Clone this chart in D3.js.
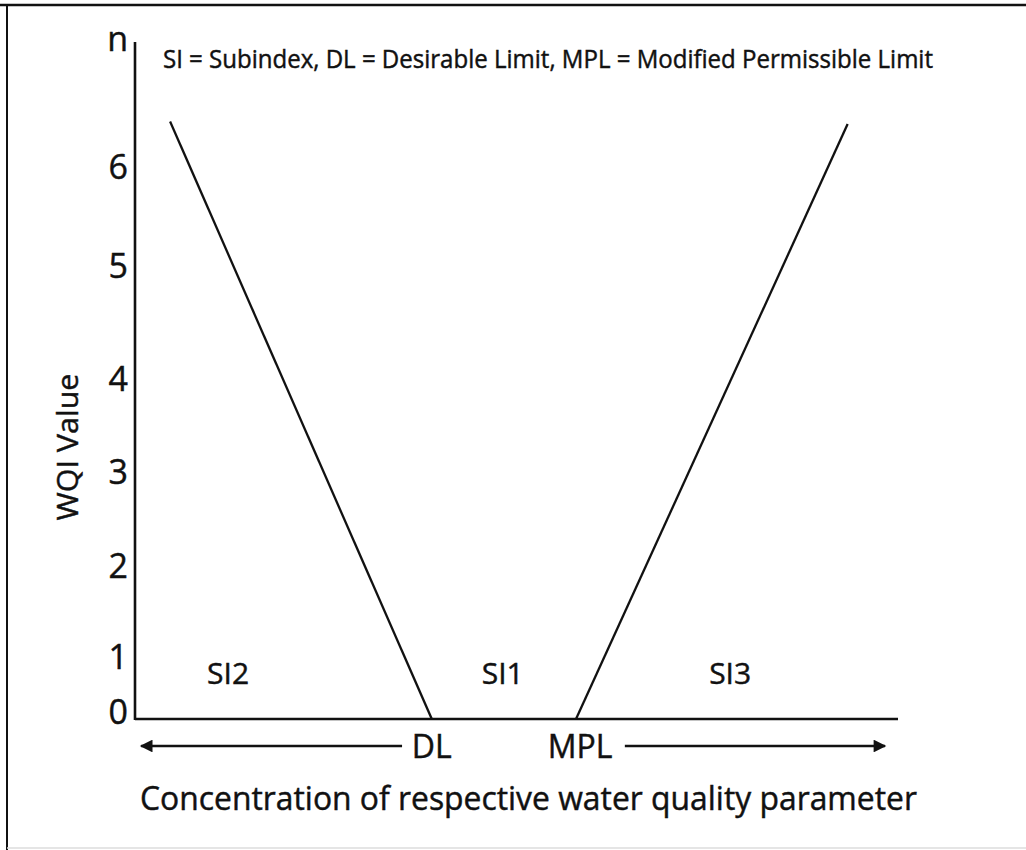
<!DOCTYPE html>
<html>
<head>
<meta charset="utf-8">
<script src="https://cdn.jsdelivr.net/npm/d3@7"></script>
<style>
  html, body { margin: 0; padding: 0; background: #fff; }
  svg text { font-family: "Open Sans", "Noto Sans", sans-serif; fill: #111; stroke: #111; stroke-width: 0.45px; }
</style>
</head>
<body>
<svg id="chart" width="1026" height="850"></svg>
<script>
// ---- data ----
const yTickValues = [0, 1, 2, 3, 4, 5, 6, 7];
const yTickLabels = ["0", "1", "2", "3", "4", "5", "6", "n"];
const limitNames = ["DL", "MPL"];
const limitValues = [38.9, 57.8];           // concentration positions of DL and MPL (0-100 schematic)
const si2Line = [[4.6, 6.41], [38.9, 0]];   // falling subindex line (concentration, WQI)
const si3Line = [[57.8, 0], [93.4, 6.39]];  // rising subindex line
const regionNames = ["SI2", "SI1", "SI3"];
const regionX = [12.2, 48.2, 78.0];
const arrowLeft = [35.0, 0.8];
const arrowRight = [64.2, 98.3];
const titleText = "SI = Subindex, DL = Desirable Limit, MPL = Modified Permissible Limit";
const xTitle = "Concentration of respective water quality parameter";
const yTitle = "WQI Value";

// ---- layout ----
const svg = d3.select("#chart");
const x = d3.scaleLinear().domain([0, 100]).range([135, 898]);
// schematic, non-uniform axis as drawn in the original
const y = d3.scaleLinear().domain(yTickValues).range([719, 664, 573, 479, 386, 273, 174, 46]);

// frame
svg.append("line").attr("x1", 0).attr("x2", 1026).attr("y1", 5).attr("y2", 5)
  .attr("stroke", "#111").attr("stroke-width", 2.5);
svg.append("line").attr("x1", 7).attr("x2", 7).attr("y1", 5).attr("y2", 850)
  .attr("stroke", "#111").attr("stroke-width", 2);
svg.append("line").attr("x1", 7).attr("x2", 1026).attr("y1", 848).attr("y2", 848)
  .attr("stroke", "#ddd").attr("stroke-width", 1.5);

const defs = svg.append("defs");
defs.append("marker").attr("id", "arrow").attr("viewBox", "0 0 10 10")
  .attr("refX", 9).attr("refY", 5).attr("markerWidth", 7).attr("markerHeight", 5.5)
  .attr("markerUnits", "strokeWidth").attr("orient", "auto")
  .append("path").attr("d", "M0,0 L10,5 L0,10 Z").attr("fill", "#111");

// axes lines
svg.append("line").attr("x1", x(0)).attr("x2", x(0))
  .attr("y1", y(0) + 1).attr("y2", y(7) - 4)
  .attr("stroke", "#111").attr("stroke-width", 2.6);
svg.append("line").attr("x1", x(0)).attr("x2", x(100))
  .attr("y1", y(0)).attr("y2", y(0))
  .attr("stroke", "#111").attr("stroke-width", 2.6);

// y tick labels via d3 axis
const yAxis = d3.axisLeft(y).tickValues(yTickValues).tickSize(0)
  .tickFormat((d, i) => yTickLabels[i]);
const gy = svg.append("g").attr("transform", `translate(${x(0)},0)`).call(yAxis)
  .attr("font-size", null).attr("font-family", null);
gy.select(".domain").remove();
gy.selectAll("text")
  .attr("x", -7).attr("dy", 4)
  .style("dominant-baseline", "alphabetic")
  .style("font-size", "34px").attr("fill", "#111");

// subindex lines
const line = d3.line().x(d => x(d[0])).y(d => y(d[1]));
svg.append("path").datum(si2Line).attr("d", line)
  .attr("fill", "none").attr("stroke", "#111").attr("stroke-width", 2.3);
svg.append("path").datum(si3Line).attr("d", line)
  .attr("fill", "none").attr("stroke", "#111").attr("stroke-width", 2.3);

// region labels
svg.selectAll("text.region").data(regionNames).join("text").attr("class", "region")
  .attr("x", (d, i) => x(regionX[i])).attr("y", y(0) - 35)
  .attr("text-anchor", "middle").style("font-size", "30px").text(d => d);

// arrows
const ay = y(0) + 27;
svg.append("line").attr("x1", x(arrowLeft[0])).attr("x2", x(arrowLeft[1]))
  .attr("y1", ay).attr("y2", ay).attr("stroke", "#111").attr("stroke-width", 2.3)
  .attr("marker-end", "url(#arrow)");
svg.append("line").attr("x1", x(arrowRight[0])).attr("x2", x(arrowRight[1]))
  .attr("y1", ay).attr("y2", ay).attr("stroke", "#111").attr("stroke-width", 2.3)
  .attr("marker-end", "url(#arrow)");

// limit labels
svg.selectAll("text.limit").data(limitNames).join("text").attr("class", "limit")
  .attr("x", (d, i) => x(limitValues[i]) + (i === 0 ? 0 : 4)).attr("y", y(0) + 39)
  .attr("text-anchor", "middle").style("font-size", "32px").text(d => d);

// titles
svg.append("text").attr("x", 163).attr("y", 68).style("font-size", "25px")
  .attr("textLength", 770).attr("lengthAdjust", "spacingAndGlyphs").text(titleText);
svg.append("text").attr("x", 140).attr("y", 810).style("font-size", "33px")
  .attr("textLength", 777).attr("lengthAdjust", "spacingAndGlyphs").text(xTitle);
svg.append("text").attr("transform", "translate(78,447) rotate(-90)")
  .attr("text-anchor", "middle").style("font-size", "30px")
  .attr("textLength", 147).attr("lengthAdjust", "spacingAndGlyphs").text(yTitle);
</script>
</body>
</html>
